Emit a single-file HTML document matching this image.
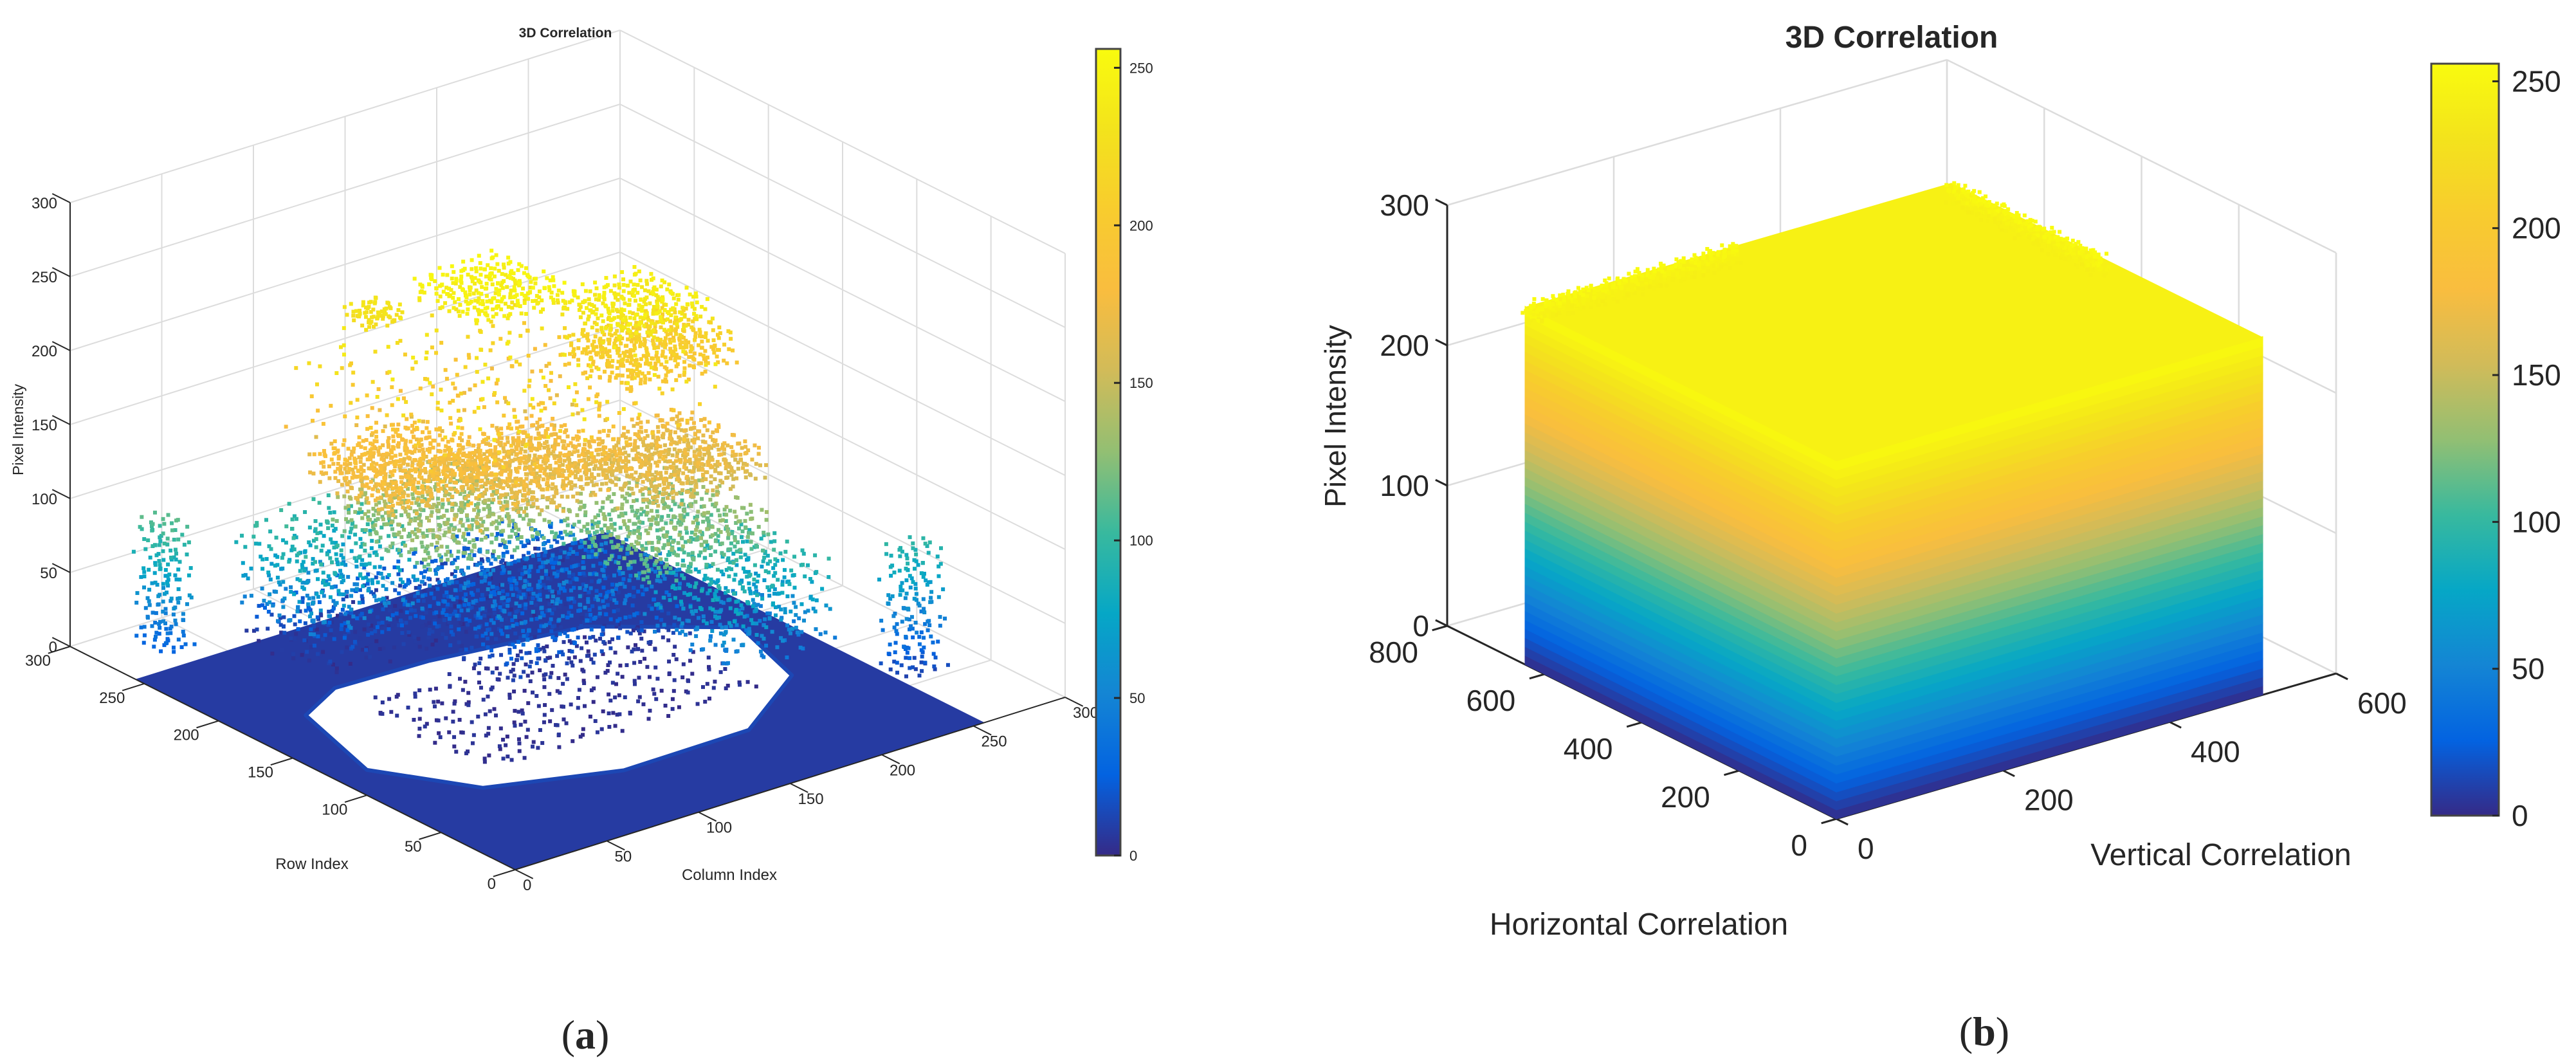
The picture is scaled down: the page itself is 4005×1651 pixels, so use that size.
<!DOCTYPE html>
<html><head><meta charset="utf-8"><title>3D Correlation</title>
<style>
html,body{margin:0;padding:0;background:#fff;}
svg{display:block;}
text{font-family:"Liberation Sans",sans-serif;fill:#262626;}
</style></head>
<body>
<svg id="fig" width="4005" height="1651" viewBox="0 0 4005 1651" xmlns="http://www.w3.org/2000/svg">
<defs>
<linearGradient id="cbgrad" x1="0" y1="1" x2="0" y2="0"></linearGradient>
</defs>
<rect width="4005" height="1651" fill="#fff"/>
<g id="panelA"></g>
<g id="panelB"></g>
<text x="910" y="1630" font-size="64" text-anchor="middle" style="font-family:'Liberation Serif',serif">(<tspan font-weight="bold">a</tspan>)</text>
<text x="3085" y="1625" font-size="64" text-anchor="middle" style="font-family:'Liberation Serif',serif">(<tspan font-weight="bold">b</tspan>)</text>
</svg>
<script>
// ---------- Panel A data (row, column, intensity clusters) ----------
const aZTicks = [0,50,100,150,200,250,300];
const aRowTicks = [0,50,100,150,200,250,300];
const aColTicks = [0,50,100,150,200,250,300];
const aCbTicks = [0,50,100,150,200,250];
const clRow   = [187,145,147,218,143,123, 98,154, 99,208, 83,243, 47,140,177,230,130];
const clCol   = [138,182,192,100, 56,108,164, 86,161, 66,190,  5,255,110,160,140,130];
const clZ     = [245,238,205,228,178,170,165,130,120, 75, 70, 70, 55,200, 30, 15,  3];
const clSprR  = [ 25, 25, 25, 10, 30, 30, 30, 35, 35, 30, 30, 12, 10, 70, 40, 30, 45];
const clSprC  = [ 25, 25, 30, 10, 30, 30, 30, 35, 35, 30, 30,  8, 12, 70, 50, 80, 75];
const clSprZ  = [  8,  8, 12,  6, 12, 12, 12, 15, 15, 30, 30, 45, 45, 40, 25, 15,  3];
const clCount = [260,260,420, 70,550,620,550,500,500,330,400,160,160,450,700,500,300];
const floorRows = [0,256];
const floorCols = [0,256];
const ringRows = [182,121, 76, 54, 55, 89,142,183,195,197];
const ringCols = [ 33, 17, 44,103,172,223,238,186,111, 61];

// ---------- Panel B data ----------
const bZTicks = [0,100,200,300];
const bHTicks = [0,200,400,600,800];
const bVTicks = [0,200,400,600];
const bCbTicks = [0,50,100,150,200,250];
const cubeH = [0,640];
const cubeV = [0,512];
const cubeZ = [0,255];

const NS="http://www.w3.org/2000/svg";
const stops=[[0,"#352a87"],[0.1,"#0363e1"],[0.2,"#1485d4"],[0.3,"#06a7c6"],[0.4,"#38b99e"],[0.5,"#92bf73"],[0.6,"#d1bb59"],[0.7,"#f9bd3f"],[0.8,"#f8cc2e"],[0.9,"#f3e31c"],[1,"#f9fb0e"]];
function hex(h){return [parseInt(h.slice(1,3),16),parseInt(h.slice(3,5),16),parseInt(h.slice(5,7),16)];}
function parula(t){t=Math.max(0,Math.min(1,t));for(let i=1;i<stops.length;i++){if(t<=stops[i][0]){const a=stops[i-1],b=stops[i];const f=(t-a[0])/(b[0]-a[0]);const A=hex(a[1]),B=hex(b[1]);return "rgb("+A.map((v,k)=>Math.round(v+(B[k]-v)*f)).join(",")+")";}}return stops[stops.length-1][1];}
const grad=document.getElementById('cbgrad');
stops.forEach(s=>{const st=document.createElementNS(NS,'stop');st.setAttribute('offset',s[0]);st.setAttribute('stop-color',s[1]);grad.appendChild(st);});

function mk(parent,tag,attrs,txt){const e=document.createElementNS(NS,tag);for(const k in attrs)e.setAttribute(k,attrs[k]);if(txt!==undefined)e.textContent=txt;parent.appendChild(e);return e;}
function halton(i,b){let f=1,r=0;while(i>0){f/=b;r+=f*(i%b);i=Math.floor(i/b);}return r;}

function makeProj(F,L,R,xMax,yMax,zs){
  return function(a,b,z){return [F[0]+a/xMax*(L[0]-F[0])+b/yMax*(R[0]-F[0]), F[1]+a/xMax*(L[1]-F[1])+b/yMax*(R[1]-F[1])-z*zs];};
}

function drawBox(g,P,aMax,bMax,zMax,aStep,bStep,zStep,gridW){
  const grid=mk(g,'g',{stroke:'#dcdcdc','stroke-width':gridW,fill:'none'});
  
  
  function line(p,q,par){mk(par,'line',{x1:p[0],y1:p[1],x2:q[0],y2:q[1]});}
  for(let b=0;b<=bMax+1e-6;b+=bStep) line(P(aMax,b,0),P(aMax,b,zMax),grid);
  for(let z=0;z<=zMax+1e-6;z+=zStep) line(P(aMax,0,z),P(aMax,bMax,z),grid);
  for(let a=0;a<=aMax+1e-6;a+=aStep) line(P(a,bMax,0),P(a,bMax,zMax),grid);
  for(let z=0;z<=zMax+1e-6;z+=zStep) line(P(0,bMax,z),P(aMax,bMax,z),grid);
  for(let a=0;a<=aMax+1e-6;a+=aStep) line(P(a,0,0),P(a,bMax,0),grid);
  for(let b=0;b<=bMax+1e-6;b+=bStep) line(P(0,b,0),P(aMax,b,0),grid);
  line(P(0,bMax,0),P(0,bMax,zMax),grid);
}
function drawAxes(g,P,aMax,bMax,zMax,aT,bT,zT,axisW,fs,tl,offA,offB,offZ){
  const ax=mk(g,'g',{stroke:'#262626','stroke-width':axisW,fill:'none'});
  
  
  let p=P(0,0,0),q=P(aMax,0,0);mk(ax,'line',{x1:p[0],y1:p[1],x2:q[0],y2:q[1]});
  q=P(0,bMax,0);mk(ax,'line',{x1:p[0],y1:p[1],x2:q[0],y2:q[1]});
  p=P(aMax,0,0);q=P(aMax,0,zMax);mk(ax,'line',{x1:p[0],y1:p[1],x2:q[0],y2:q[1]});
  const lab=mk(g,'g',{'font-size':fs});
  aT.forEach(v=>{const s=P(v,0,0);const e=P(v,-bMax*tl,0);mk(ax,'line',{x1:s[0],y1:s[1],x2:e[0],y2:e[1]});
    const t=mk(lab,'text',{x:s[0]+offA[0],y:s[1]+offA[1],'text-anchor':'end'},String(v));
    
    });
  bT.forEach(v=>{const s=P(0,v,0);const e=P(-aMax*tl,v,0);mk(ax,'line',{x1:s[0],y1:s[1],x2:e[0],y2:e[1]});
    const t=mk(lab,'text',{x:s[0]+offB[0],y:s[1]+offB[1],'text-anchor':'start'},String(v));
    
    });
  zT.forEach(v=>{const s=P(aMax,0,v);const e=P(aMax*(1+tl),0,v);mk(ax,'line',{x1:s[0],y1:s[1],x2:e[0],y2:e[1]});
    const t=mk(lab,'text',{x:s[0]+offZ[0],y:s[1]+offZ[1],'text-anchor':'end'},String(v));
    
    });
}
function colorbar(g,x0,x1,y0,y1,vmax,ticks,fs,lx,dy){
  const cb=mk(g,'g',{});
  
  
  mk(cb,'rect',{x:x0,y:y0,width:x1-x0,height:y1-y0,fill:'url(#cbgrad)',stroke:'#444','stroke-width':3});
  const sy=v=>y1-(v/vmax)*(y1-y0);
  ticks.forEach(v=>{const y=sy(v);mk(cb,'line',{x1:x1-10,y1:y,x2:x1,y2:y,stroke:'#262626','stroke-width':3});
    const t=mk(cb,'text',{x:lx,y:y+dy,'font-size':fs},String(v));
    
    });
}

// ================= Panel A =================
(function(){
  const g=document.getElementById('panelA');
  const P=makeProj([801,1352],[109,1005],[1656,1084],300,300,2.3);
  drawBox(g,P,300,300,300,50,50,50,2);
  const fl=[P(floorRows[0],floorCols[0],0),P(floorRows[1],floorCols[0],0),P(floorRows[1],floorCols[1],0),P(floorRows[0],floorCols[1],0)];
  const floor=mk(g,'polygon',{points:fl.map(p=>p.join(',')).join(' '),fill:parula(0.03)});
  
  
  const ring=mk(g,'polygon',{points:ringRows.map((r,i)=>P(r,ringCols[i],0).join(',')).join(' '),fill:'#ffffff',stroke:parula(0.05),'stroke-width':6,'stroke-linejoin':'round'});
  
  
  drawAxes(g,P,300,300,300,aRowTicks,aColTicks,aZTicks,2,24,0.04,[-30,30],[12,32],[-20,9]);
  const pts=[];
  clRow.forEach((r0,k)=>{for(let i=1;i<=clCount[k];i++){
    const r=r0+(halton(i,2)-0.5)*2*clSprR[k];const c=clCol[k]+(halton(i,3)-0.5)*2*clSprC[k];const z=Math.max(0,clZ[k]+(halton(i,5)-0.5)*2*clSprZ[k]);
    pts.push([r,c,z]);}});
  pts.sort((a,b)=>(b[0]+b[1])-(a[0]+a[1]));
  const sc=mk(g,'g',{});
  
  
  pts.forEach(p=>{const s=P(p[0],p[1],p[2]);mk(sc,'rect',{x:s[0]-3,y:s[1]-3,width:6,height:6,fill:parula(p[2]/256)});});
  colorbar(g,1704,1742,76,1330,256,aCbTicks,22,1756,8);
  const t=mk(g,'text',{x:879,y:58,'font-size':21,'font-weight':'bold','text-anchor':'middle'},'3D Correlation');
  
  
  const zl=mk(g,'text',{x:0,y:0,'font-size':23,'text-anchor':'middle',transform:'translate(36,668) rotate(-90)'},'Pixel Intensity');
  
  
  const rl=mk(g,'text',{x:485,y:1351,'font-size':24,'text-anchor':'middle'},'Row Index');
  
  
  const cl=mk(g,'text',{x:1134,y:1368,'font-size':24,'text-anchor':'middle'},'Column Index');
  
  
})();

// ================= Panel B =================
(function(){
  const g=document.getElementById('panelB');
  const P=makeProj([2855,1273],[2250,973],[3632,1047],800,600,2.18);
  drawBox(g,P,800,600,300,200,200,100,2.5);
  drawAxes(g,P,800,600,300,bHTicks,bVTicks,bZTicks,3,46,0.03,[-45,57],[33,62],[-28,16]);
  const cube=mk(g,'g',{});
  
  
  const H1=cubeH[1],V1=cubeV[1],Z1=cubeZ[1];
  const n=40;
  for(let i=0;i<n;i++){
    const z0=Z1*i/n,z1=Z1*(i+1)/n+0.5,col=parula((z0+z1)/2/256);
    let q=[P(0,0,z0),P(H1,0,z0),P(H1,0,z1),P(0,0,z1)];
    mk(cube,'polygon',{points:q.map(p=>p.join(',')).join(' '),fill:col,stroke:col,'stroke-width':1});
    q=[P(0,0,z0),P(0,V1,z0),P(0,V1,z1),P(0,0,z1)];
    mk(cube,'polygon',{points:q.map(p=>p.join(',')).join(' '),fill:col,stroke:col,'stroke-width':1});
  }
  const top=[P(0,0,Z1),P(H1,0,Z1),P(H1,V1,Z1),P(0,V1,Z1)];
  const tp=mk(cube,'polygon',{points:top.map(p=>p.join(',')).join(' '),fill:parula(0.96)});
  
  
  const fz=mk(cube,'g',{});
  
  
  for(let i=1;i<=700;i++){
    const u=halton(i,2),w=halton(i,3),e=halton(i,5);
    let a,b;
    if(i%2){a=u*H1;b=V1*(0.98+0.03*w);}else{a=H1*(0.98+0.03*w);b=u*V1;}
    const z=Z1*(0.95+0.06*e);
    const s=P(a,b,z);
    mk(fz,'rect',{x:s[0]-3,y:s[1]-3,width:6,height:6,fill:parula(z/256)});
  }
  colorbar(g,3780,3885,99,1268,256,bCbTicks,46,3905,16);
  const t=mk(g,'text',{x:2941,y:74,'font-size':48,'font-weight':'bold','text-anchor':'middle'},'3D Correlation');
  
  
  const zl=mk(g,'text',{x:0,y:0,'font-size':46,'text-anchor':'middle',transform:'translate(2092,647) rotate(-90)'},'Pixel Intensity');
  
  
  const vl=mk(g,'text',{x:3453,y:1345,'font-size':48,'text-anchor':'middle'},'Vertical Correlation');
  
  
  const hl=mk(g,'text',{x:2548,y:1453,'font-size':48,'text-anchor':'middle'},'Horizontal Correlation');
  
  
})();
</script>
</body></html>
